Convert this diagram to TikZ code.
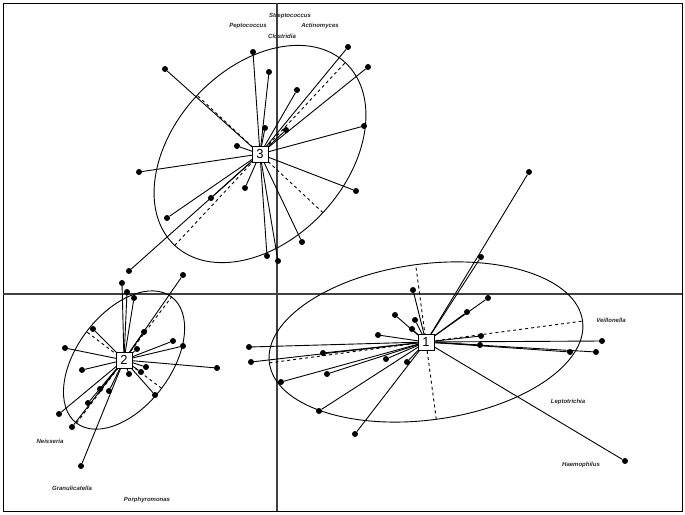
\documentclass[tikz,border=0pt]{standalone}
\usepackage{fontspec}
\setmainfont{Liberation Sans}
\begin{document}
\begin{tikzpicture}[x=1pt,y=-1pt,
  dot/.style={circle,fill=black,inner sep=0pt,minimum size=6pt},
  ctr/.style={draw,fill=white,minimum size=16pt,inner sep=0pt,font=\fontsize{13}{13}\selectfont},
  lab/.style={font=\fontsize{6}{6}\selectfont\bfseries\itshape,text=black!85},
  link/.style={line width=0.9pt},
  axis/.style={line width=1.2pt,black!75},
  dsh/.style={dashed,line width=0.9pt}]
\useasboundingbox (0,0) rectangle (685,514);
\draw[line width=1pt] (3,3) rectangle (682,511);
\draw[axis] (277,3) -- (277,511);
\draw[axis] (3,294) -- (682,294);
% ellipses
\coordinate (c3) at (260,154);
\coordinate (c2) at (124,360);
\coordinate (c1) at (426,342);
\draw[line width=0.9pt,rotate around={47:(c3)}] (c3) ellipse [x radius=125pt,y radius=86pt];
\draw[line width=0.9pt,rotate around={53:(c2)}] (c2) ellipse [x radius=79pt,y radius=47pt];
\draw[line width=0.9pt,rotate around={7.6:(c1)}] (c1) ellipse [x radius=158pt,y radius=78pt];
% dashed axes
\draw[dsh,rotate around={47:(c3)}] ([xshift=-125pt]c3) -- ([xshift=125pt]c3);
\draw[dsh,rotate around={47:(c3)}] ([yshift=-86pt]c3) -- ([yshift=86pt]c3);
\draw[dsh,rotate around={53:(c2)}] ([xshift=-79pt]c2) -- ([xshift=79pt]c2);
\draw[dsh,rotate around={53:(c2)}] ([yshift=-47pt]c2) -- ([yshift=47pt]c2);
\draw[dsh,rotate around={7.6:(c1)}] ([xshift=-158pt]c1) -- ([xshift=158pt]c1);
\draw[dsh,rotate around={7.6:(c1)}] ([yshift=-78pt]c1) -- ([yshift=78pt]c1);
% cluster 3
\foreach \p [count=\i] in {(253,52),(165,69),(269,72),(297,90),(348,47),(368,67),(265,128),(286,130),(364,126),(237,146),(139,172),(356,191),(245,188),(211,198),(167,218),(302,242),(267,256),(278,261),(129,271)}{
  \node[dot] (a\i) at \p {};
  \draw[link] (c3) -- (a\i);
}
% cluster 2
\foreach \p [count=\i] in {(122,283),(127,292),(134,298),(183,275),(93,329),(144,332),(173,341),(183,346),(137,349),(65,348),(82,370),(146,367),(141,372),(129,374),(217,368),(100,389),(109,391),(155,395),(88,403),(59,414),(72,427),(81,466)}{
  \node[dot] (b\i) at \p {};
  \draw[link] (c2) -- (b\i);
}
% cluster 1
\foreach \p [count=\i] in {(529,172),(481,257),(488,298),(413,290),(467,312),(395,315),(415,320),(412,329),(378,335),(481,336),(602,341),(480,345),(570,352),(596,352),(249,347),(323,353),(386,359),(251,362),(407,362),(327,374),(281,382),(319,411),(355,434),(625,461)}{
  \node[dot] (d\i) at \p {};
  \draw[link] (c1) -- (d\i);
}
\node[ctr] (n3) at (c3) {3};
\node[ctr] (n2) at (c2) {2};
\node[ctr] (n1) at (c1) {1};
% labels
\node[lab] (l1) at (290,16) {Streptococcus};
\node[lab] (l2) at (248,26) {Peptococcus};
\node[lab] (l3) at (320,26) {Actinomyces};
\node[lab] (l4) at (282,36) {Clostridia};
\node[lab] (l5) at (611,320) {Veillonella};
\node[lab] (l6) at (568,402) {Leptotrichia};
\node[lab] (l7) at (581,465) {Haemophilus};
\node[lab] (l8) at (50,441) {Neisseria};
\node[lab] (l9) at (72,488) {Granulicatella};
\node[lab] (l10) at (147,500) {Porphyromonas};
\end{tikzpicture}
\end{document}
